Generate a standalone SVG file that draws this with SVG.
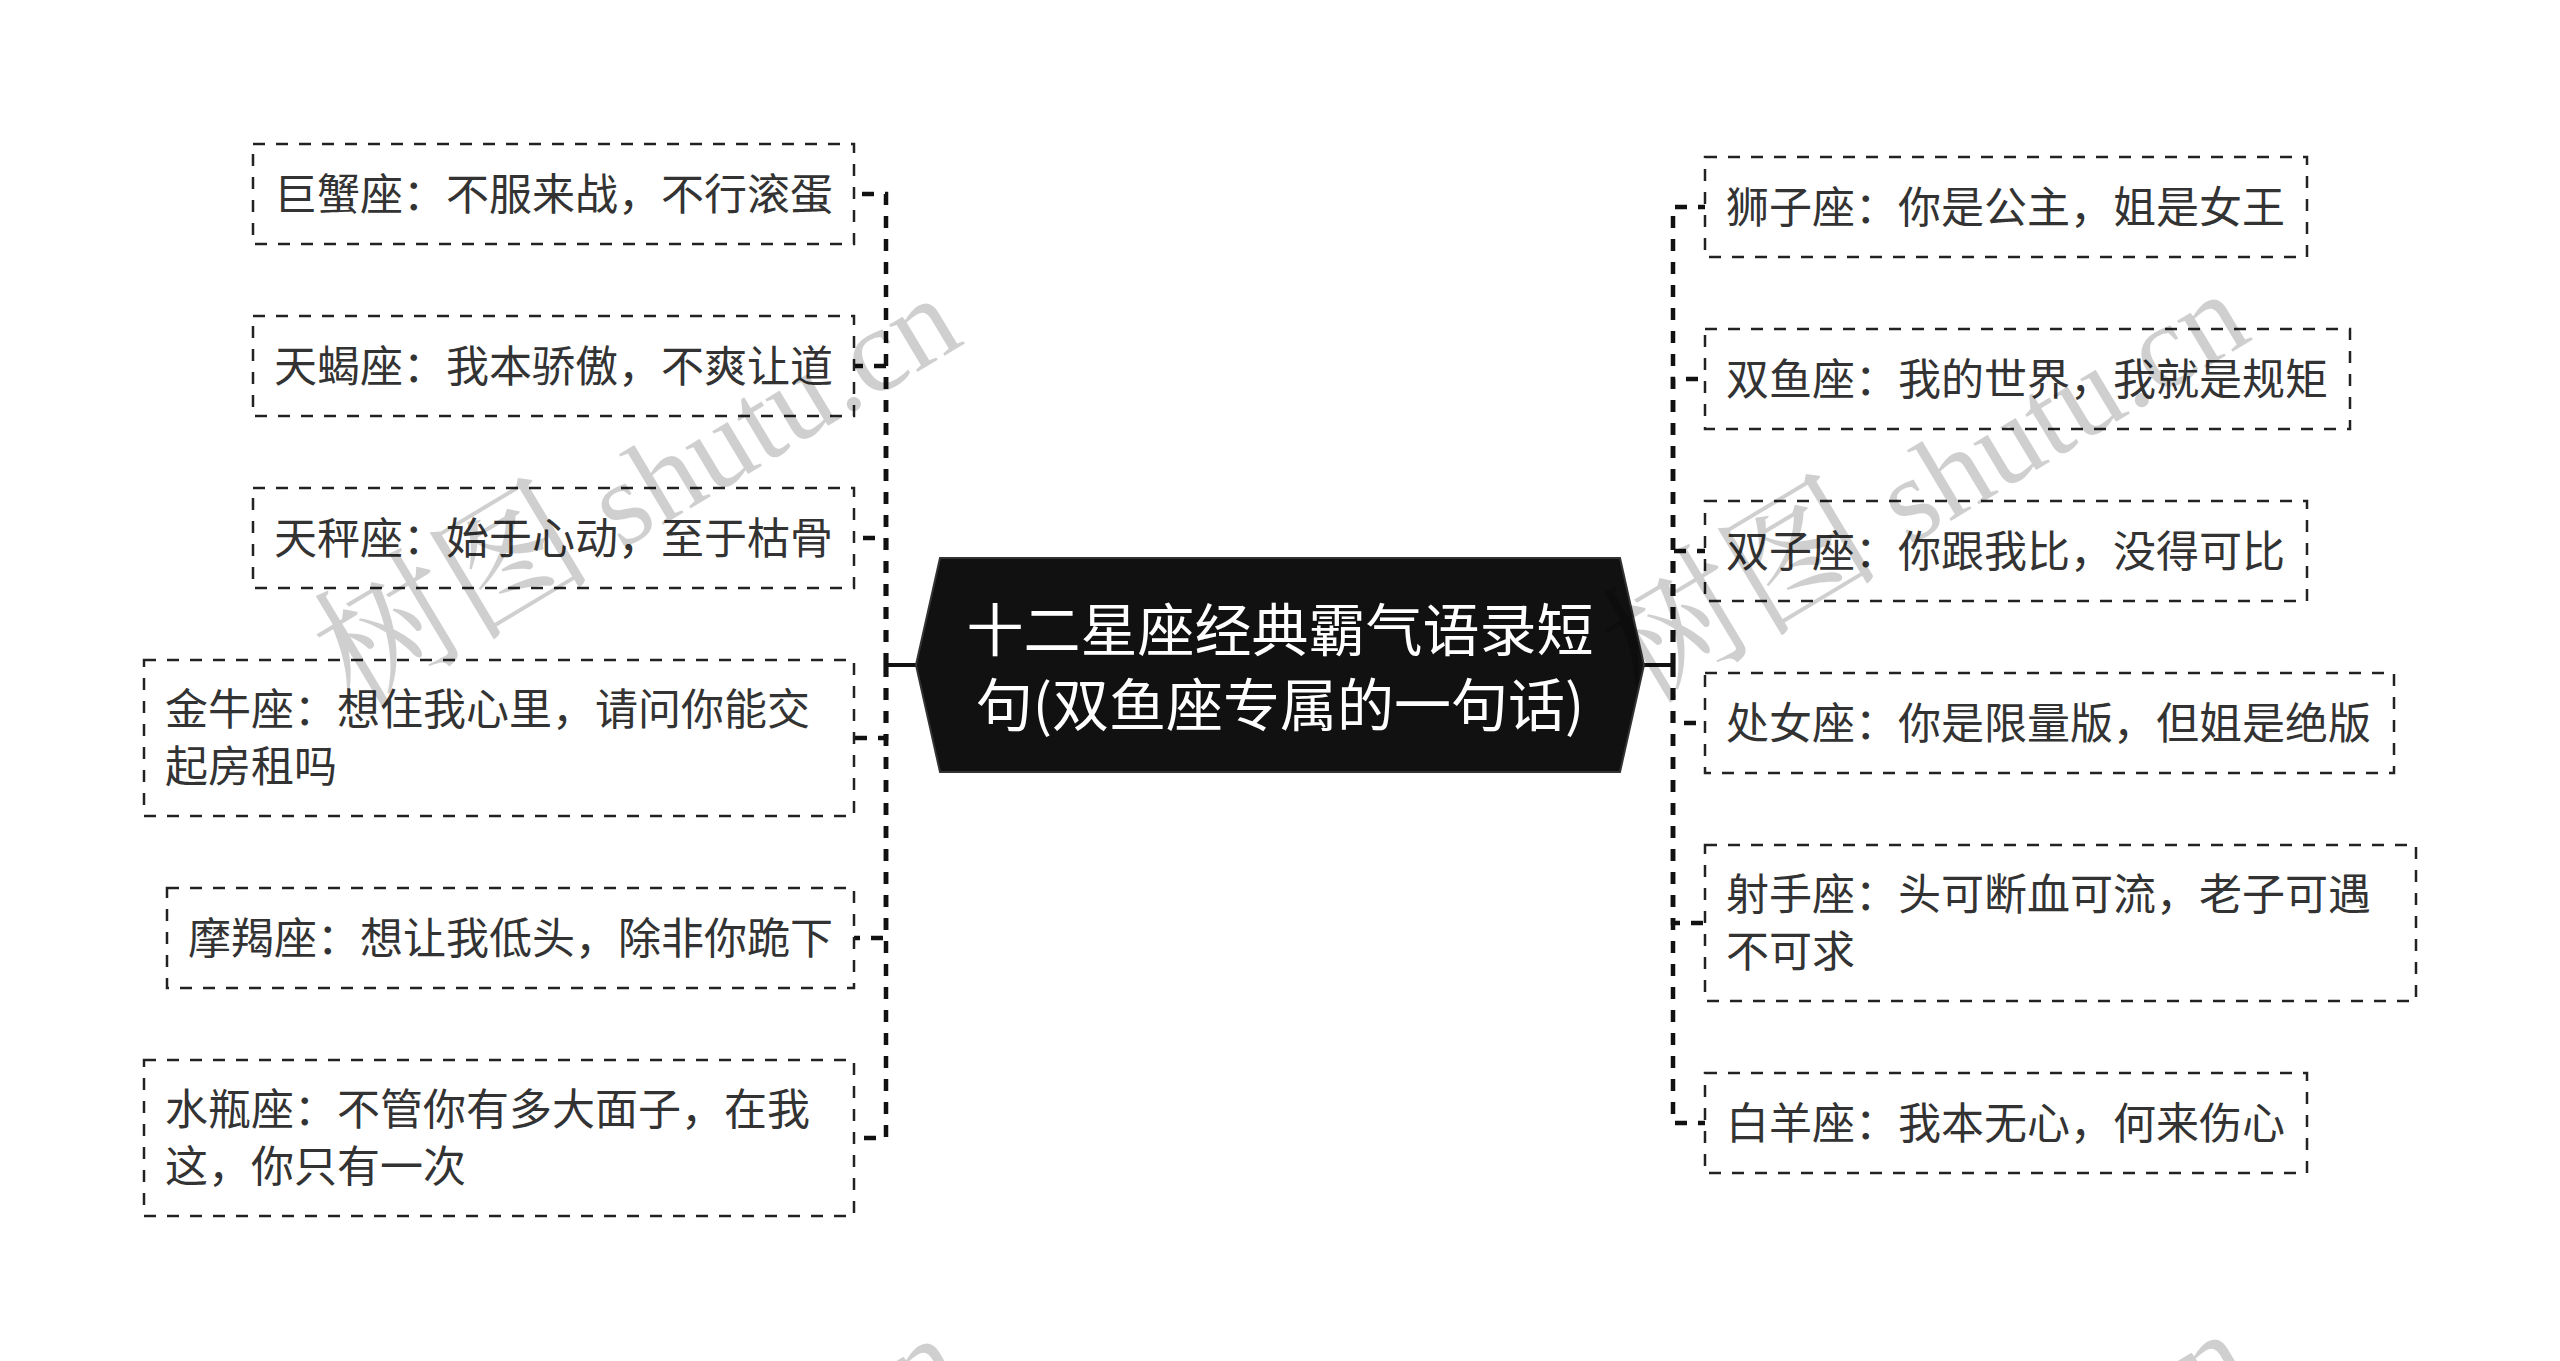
<svg xmlns="http://www.w3.org/2000/svg" width="2560" height="1361" viewBox="0 0 2560 1361">
<defs>
<style>
.box{fill:#ffffff;stroke:#222;stroke-width:2.5;stroke-dasharray:12 11}
.t{font-family:"Noto Sans CJK SC","Noto Sans",sans-serif;font-size:43px;fill:#333}
.ct{font-family:"Noto Sans CJK SC","Noto Sans",sans-serif;font-size:57px;fill:#ffffff;text-anchor:middle}
.ln{fill:none;stroke:#111;stroke-width:4.5;stroke-dasharray:12 11}
.stub{fill:none;stroke:#111;stroke-width:4}
.wm{font-family:"Liberation Serif","Noto Serif CJK SC","Noto Sans CJK SC",serif;font-size:120px;fill:#000;fill-opacity:0.19}
.wmc{font-size:140px}
</style>
</defs>
<rect x="0" y="0" width="2560" height="1361" fill="#ffffff"/>
<g id="connectors">
<path class="stub" d="M918,665 H886"/>
<path class="stub" d="M1644,665 H1673"/>
<path class="ln" d="M886,665 V194 H854"/>
<path class="ln" d="M886,665 V366 H854"/>
<path class="ln" d="M886,665 V538 H854"/>
<path class="ln" d="M886,665 V738 H854"/>
<path class="ln" d="M886,665 V938 H854"/>
<path class="ln" d="M886,665 V1138 H854"/>
<path class="ln" d="M1673,665 V207 H1705"/>
<path class="ln" d="M1673,665 V379 H1705"/>
<path class="ln" d="M1673,665 V551 H1705"/>
<path class="ln" d="M1673,665 V723 H1705"/>
<path class="ln" d="M1673,665 V923 H1705"/>
<path class="ln" d="M1673,665 V1123 H1705"/>
</g>
<g id="center">
<polygon points="916,665 940,558 1620,558 1644,665 1620,772 940,772" fill="#111" stroke="#333" stroke-width="2"/>
<text class="ct" x="1280" y="651">十二星座经典霸气语录短</text>
<text class="ct" x="1280" y="726">句(双鱼座专属的一句话)</text>
</g>
<g id="cancer"><rect class="box" x="253" y="144" width="601" height="100"/><text class="t" x="274" y="210">巨蟹座：不服来战，不行滚蛋</text></g>
<g id="scorpio"><rect class="box" x="253" y="316" width="601" height="100"/><text class="t" x="274" y="382">天蝎座：我本骄傲，不爽让道</text></g>
<g id="libra"><rect class="box" x="253" y="488" width="601" height="100"/><text class="t" x="274" y="554">天秤座：始于心动，至于枯骨</text></g>
<g id="taurus"><rect class="box" x="144" y="660" width="710" height="156"/><text class="t" x="165" y="725">金牛座：想住我心里，请问你能交</text><text class="t" x="165" y="782">起房租吗</text></g>
<g id="capricorn"><rect class="box" x="167" y="888" width="687" height="100"/><text class="t" x="188" y="954">摩羯座：想让我低头，除非你跪下</text></g>
<g id="aquarius"><rect class="box" x="144" y="1060" width="710" height="156"/><text class="t" x="165" y="1125">水瓶座：不管你有多大面子，在我</text><text class="t" x="165" y="1182">这，你只有一次</text></g>
<g id="leo"><rect class="box" x="1705" y="157" width="602" height="100"/><text class="t" x="1726" y="223">狮子座：你是公主，姐是女王</text></g>
<g id="pisces"><rect class="box" x="1705" y="329" width="645" height="100"/><text class="t" x="1726" y="395">双鱼座：我的世界，我就是规矩</text></g>
<g id="gemini"><rect class="box" x="1705" y="501" width="602" height="100"/><text class="t" x="1726" y="567">双子座：你跟我比，没得可比</text></g>
<g id="virgo"><rect class="box" x="1705" y="673" width="689" height="100"/><text class="t" x="1726" y="739">处女座：你是限量版，但姐是绝版</text></g>
<g id="sagittarius"><rect class="box" x="1705" y="845" width="711" height="156"/><text class="t" x="1726" y="910">射手座：头可断血可流，老子可遇</text><text class="t" x="1726" y="967">不可求</text></g>
<g id="aries"><rect class="box" x="1705" y="1073" width="602" height="100"/><text class="t" x="1726" y="1139">白羊座：我本无心，何来伤心</text></g>
<g id="watermark">
<text class="wm" transform="translate(355,710) rotate(-31)"><tspan class="wmc">树图</tspan> shutu.cn</text>
<text class="wm" transform="translate(1643,706) rotate(-31)"><tspan class="wmc">树图</tspan> shutu.cn</text>
<text class="wm" transform="translate(356,1750) rotate(-31)"><tspan class="wmc">树图</tspan> shutu.cn</text>
<text class="wm" transform="translate(1644,1746) rotate(-31)"><tspan class="wmc">树图</tspan> shutu.cn</text>
</g>
</svg>
